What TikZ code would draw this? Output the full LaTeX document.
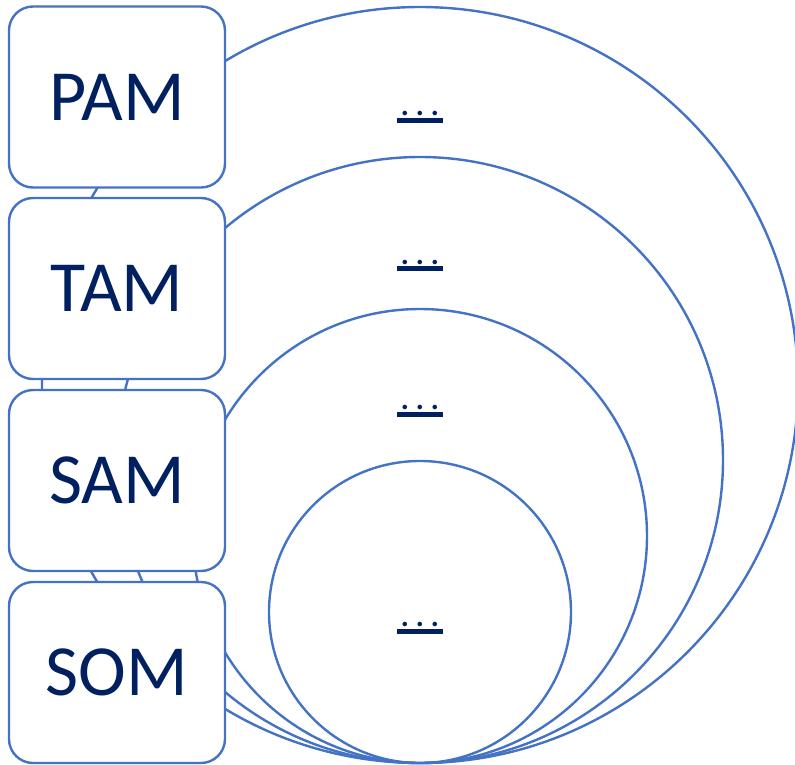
\documentclass[tikz,border=0pt]{standalone}
\usepackage{fontspec}
\setmainfont{Carlito}
\definecolor{lineblue}{HTML}{4472C4}
\definecolor{navy}{HTML}{002060}
\newcommand\myul[1]{\hbox to 46pt{\hss#1\hss}\llap{\rule[-7pt]{46pt}{5pt}}}
\begin{document}
\begin{tikzpicture}[x=1pt,y=-1pt,
  ring/.style={draw=lineblue,line width=2.4pt},
  stagebox/.style={draw=lineblue,line width=2.4pt,fill=white,rounded corners=24pt,minimum width=216pt,minimum height=181pt,inner sep=0pt,text=navy,font=\fontsize{72}{80}\selectfont},
  dots/.style={text=navy,font=\fontsize{38}{42}\selectfont,inner sep=0pt,anchor=base}]
\useasboundingbox (0,0) rectangle (795,765);
\draw[ring] (420,385) circle (378);
\draw[ring] (420,460) circle (303);
\draw[ring] (420,536) circle (227);
\draw[ring] (420,612) circle (151);
\node[dots] (d1) at (420,116) {\myul{.\kern5.4pt.\kern5.4pt.}};
\node[dots] (d2) at (420,264) {\myul{.\kern5.4pt.\kern5.4pt.}};
\node[dots] (d3) at (420,409.5) {\myul{.\kern5.4pt.\kern5.4pt.}};
\node[dots] (d4) at (420,626.5) {\myul{.\kern5.4pt.\kern5.4pt.}};
\node[stagebox] (pam) at (117,97) {PAM};
\node[stagebox] (tam) at (117,288.5) {TAM};
\node[stagebox] (sam) at (117,480.5) {SAM};
\node[stagebox] (som) at (117,672.5) {SOM};
\end{tikzpicture}
\end{document}
